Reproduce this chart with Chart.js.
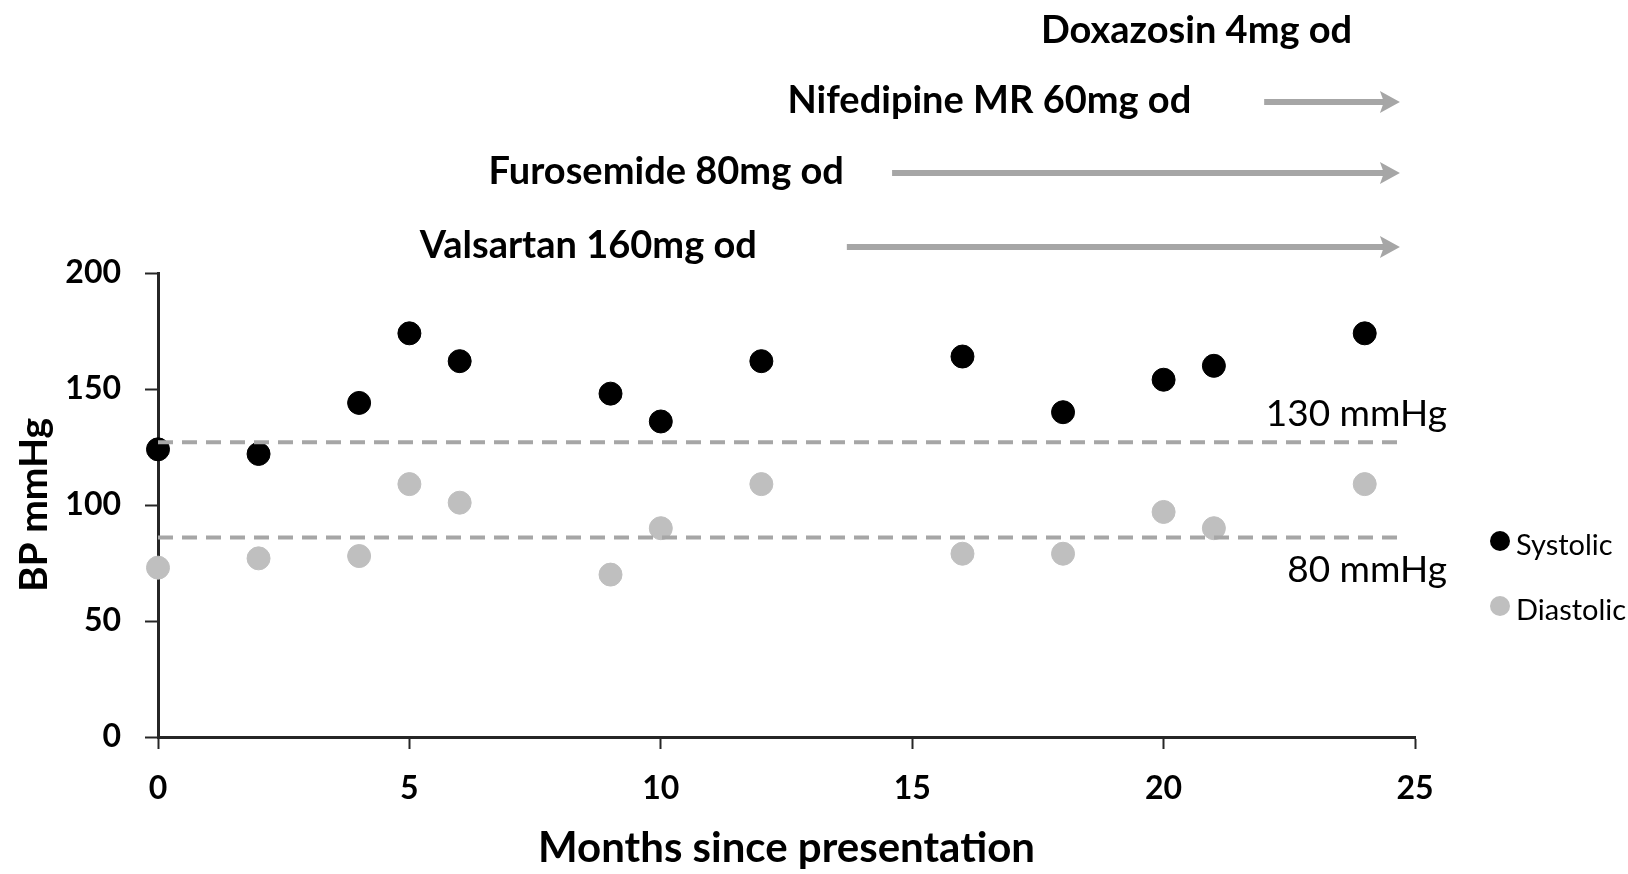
<!DOCTYPE html>
<html>
<head>
<meta charset="utf-8">
<title>BP mmHg vs months since presentation</title>
<script src="https://cdn.jsdelivr.net/npm/chart.js@4/dist/chart.umd.min.js"></script>
<style>
    html, body { margin: 0; padding: 0; background: #fff; }
    #chart { display: block; }
</style>
</head>
<body>
<canvas id="chart" width="1628" height="874"></canvas>
<script>
// Data
const months = [0, 2, 4, 5, 6, 9, 10, 12, 16, 18, 20, 21, 24];
const systolic = [124, 122, 144, 174, 162, 148, 136, 162, 164, 140, 154, 160, 174];
const diastolic = [73, 77, 78, 109, 101, 70, 90, 109, 79, 79, 97, 90, 109];

const xTicks = [0, 5, 10, 15, 20, 25];
const yTicks = [0, 50, 100, 150, 200];

// target lines (as drawn) and their labels
const targetLevels = [127, 86];
const targetLabels = ["130 mmHg", "80 mmHg"];
const targetEnd = 24.8;

// drugs, month each arrow starts (null = no arrow)
const drugs = ["Doxazosin 4mg od", "Nifedipine MR 60mg od", "Furosemide 80mg od", "Valsartan 160mg od"];
const drugStarts = [null, 22.0, 14.6, 13.7];
const arrowEnd = 24.7;

// ===========================================================================
// Layout / styles
const fontFamily = "Lato, 'Open Sans', sans-serif";
const colorSystolic = "#000000";
const colorDiastolic = "#bfbfbf";
const colorTarget = "#a6a6a6";
const colorArrow = "#a6a6a6";
const colorAxis = "#262626";

const drugLabelRight = [23.75, 20.55, 13.64, 11.91];   // in months
const drugRowAbove = [242, 172, 101, 27];               // px above plot top

const pointsOf = (ys) => months.map((m, i) => ({ x: m, y: ys[i] }));

const targetDatasets = targetLevels.map((level) => ({
    type: "line",
    label: "target",
    data: [{ x: 0, y: level }, { x: targetEnd, y: level }],
    borderColor: colorTarget,
    borderWidth: 4,
    borderDash: [15, 9],
    pointRadius: 0,
    fill: false,
    clip: false,
    order: 0
}));

// Annotations: drug rows, arrows, target labels, legend
const annotations = {
    id: "annotations",
    afterDraw(chart) {
        const { ctx, chartArea, scales: { x, y } } = chart;
        ctx.save();

        // drug labels and arrows
        ctx.font = "bold 38px " + fontFamily;
        ctx.textBaseline = "middle";
        ctx.textAlign = "right";
        drugs.forEach((name, i) => {
            const rowY = chartArea.top - drugRowAbove[i];
            ctx.fillStyle = "#000";
            ctx.fillText(name, x.getPixelForValue(drugLabelRight[i]), rowY);
            if (drugStarts[i] === null) return;
            const x0 = x.getPixelForValue(drugStarts[i]);
            const x1 = x.getPixelForValue(arrowEnd);
            const ay = rowY + 1;
            ctx.strokeStyle = colorArrow;
            ctx.fillStyle = colorArrow;
            ctx.lineWidth = 6;
            ctx.lineCap = "butt";
            ctx.beginPath();
            ctx.moveTo(x0, ay);
            ctx.lineTo(x1 - 12, ay);
            ctx.stroke();
            // notched head
            ctx.beginPath();
            ctx.moveTo(x1, ay);
            ctx.lineTo(x1 - 20, ay - 11);
            ctx.lineTo(x1 - 16, ay);
            ctx.lineTo(x1 - 20, ay + 11);
            ctx.closePath();
            ctx.fill();
        });

        // target labels
        ctx.font = "37px " + fontFamily;
        ctx.fillStyle = "#000";
        ctx.textAlign = "right";
        const labelX = chartArea.right + 32;
        ctx.fillText(targetLabels[0], labelX, y.getPixelForValue(targetLevels[0]) - 28);
        ctx.fillText(targetLabels[1], labelX, y.getPixelForValue(targetLevels[1]) + 33);

        // legend
        ctx.font = "29px " + fontFamily;
        ctx.textAlign = "left";
        const legendItems = chart.data.datasets.filter((d) => d.type === "scatter");
        legendItems.forEach((d, i) => {
            const ly = chartArea.top + 270 + i * 65;
            ctx.fillStyle = d.backgroundColor;
            ctx.beginPath();
            ctx.arc(chartArea.right + 85, ly - 2, 10, 0, Math.PI * 2);
            ctx.fill();
            ctx.fillStyle = "#000";
            ctx.fillText(d.label, chartArea.right + 101, ly + 3);
        });

        ctx.restore();
    }
};

new Chart(document.getElementById("chart"), {
    data: {
        datasets: [
            {
                type: "scatter",
                label: "Systolic",
                data: pointsOf(systolic),
                backgroundColor: colorSystolic,
                borderColor: colorSystolic,
                pointRadius: 11.5,
                pointHoverRadius: 11.5,
                clip: false,
                order: 1
            },
            {
                type: "scatter",
                label: "Diastolic",
                data: pointsOf(diastolic),
                backgroundColor: colorDiastolic,
                borderColor: colorDiastolic,
                pointRadius: 11.5,
                pointHoverRadius: 11.5,
                clip: false,
                order: 2
            },
            ...targetDatasets
        ]
    },
    options: {
        responsive: false,
        animation: false,
        devicePixelRatio: 1,
        layout: {
            padding: { left: 0, top: 273, right: 213, bottom: 0 }
        },
        plugins: {
            legend: { display: false },
            tooltip: { enabled: false }
        },
        scales: {
            x: {
                type: "linear",
                min: 0,
                max: 25,
                afterBuildTicks: (s) => { s.ticks = xTicks.map((v) => ({ value: v })); },
                afterFit: (s) => { s.height = 874 - 737; },
                grid: {
                    drawOnChartArea: false,
                    drawTicks: true,
                    tickLength: 12,
                    tickWidth: 2,
                    tickColor: colorAxis
                },
                border: { display: true, color: colorAxis, width: 3 },
                ticks: {
                    color: "#000",
                    padding: 20,
                    maxRotation: 0,
                    font: { family: fontFamily, size: 32, weight: "bold" }
                },
                title: {
                    display: true,
                    text: "Months since presentation",
                    color: "#000",
                    padding: { top: 0, bottom: 0 },
                    font: { family: fontFamily, size: 42, weight: "bold" }
                }
            },
            y: {
                type: "linear",
                min: 0,
                max: 200,
                afterBuildTicks: (s) => { s.ticks = yTicks.map((v) => ({ value: v })); },
                afterFit: (s) => { s.width = 158; },
                grid: {
                    drawOnChartArea: false,
                    drawTicks: true,
                    tickLength: 13,
                    tickWidth: 2,
                    tickColor: colorAxis
                },
                border: { display: true, color: colorAxis, width: 3 },
                ticks: {
                    color: "#000",
                    padding: 24,
                    font: { family: fontFamily, size: 32, weight: "bold" }
                },
                title: {
                    display: true,
                    text: "BP mmHg",
                    color: "#000",
                    padding: { top: 11, bottom: 0 },
                    font: { family: fontFamily, size: 39, weight: "bold" }
                }
            }
        }
    },
    plugins: [annotations]
});
</script>
</body>
</html>
